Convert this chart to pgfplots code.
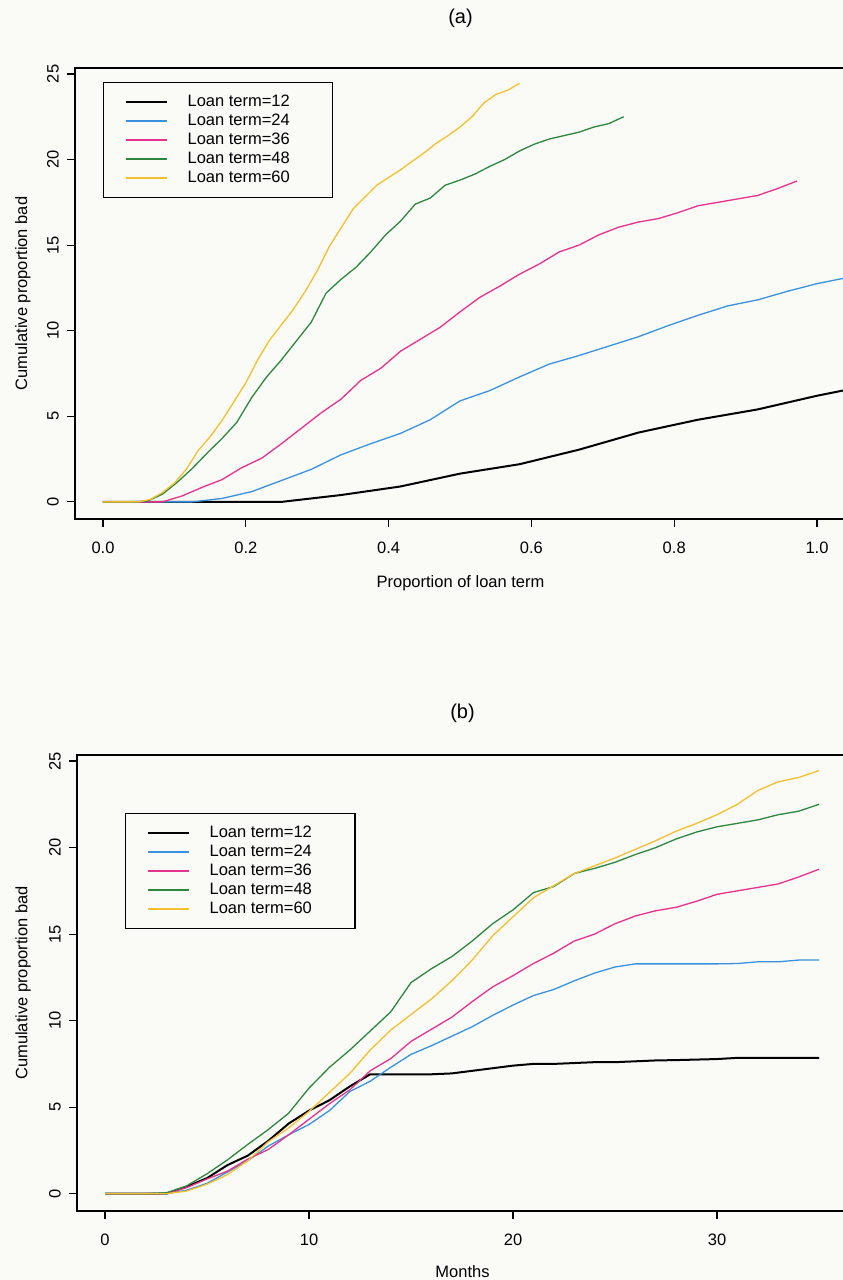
\documentclass[border=0pt]{standalone}
\usepackage{fontspec}
\setmainfont{Liberation Sans}
\usepackage{pgfplots}
\usepackage{pgfplotstable}
\pgfplotsset{compat=1.18}
\definecolor{bgc}{RGB}{250,250,246}
\definecolor{cblue}{RGB}{58,146,222}
\definecolor{cmag}{RGB}{230,50,140}
\definecolor{cgreen}{RGB}{46,133,64}
\definecolor{cyel}{RGB}{242,192,48}

% cumulative proportion bad (%) by month since opening, per loan term
\pgfplotstableread{
m  t12  t24   t36   t48   t60
0  0    0     0     0     0
1  0    0     0     0     0
2  0    0     0     0     0
3  0    0     0     0.05  0
4  0.4  0.2   0.35  0.45  0.15
5  0.9  0.6   0.85  1.15  0.55
6  1.65 1.25  1.3   1.95  1.1
7  2.2  1.9   2.0   2.85  1.9
8  3.05 2.75  2.55  3.7   3.0
9  4.05 3.4   3.4   4.65  3.8
10 4.8  4.0   4.3   6.1   4.75
11 5.4  4.8   5.2   7.3   5.85
12 6.2  5.9   6.0   8.3   6.95
13 6.9  6.5   7.1   9.4   8.3
14 6.9  7.3   7.8   10.5  9.45
15 6.9  8.05  8.8   12.2  10.35
16 6.9  8.55  9.5   13.0  11.25
17 6.95 9.1   10.2  13.7  12.3
18 7.1  9.65  11.1  14.6  13.5
19 7.25 10.3  11.95 15.6  14.9
20 7.4  10.9  12.6  16.4  16.0
21 7.5  11.45 13.3  17.4  17.1
22 7.5  11.8  13.9  17.75 17.8
23 7.55 12.3  14.6  18.5  18.5
24 7.6  12.75 15.0  18.8  18.95
25 7.6  13.1  15.6  19.15 19.4
26 7.65 13.28 16.05 19.6  19.9
27 7.7  13.28 16.35 20.0  20.4
28 7.72 13.28 16.55 20.5  20.95
29 7.75 13.28 16.9  20.9  21.4
30 7.78 13.28 17.3  21.2  21.9
31 7.85 13.3  17.5  21.4  22.5
32 7.85 13.4  17.7  21.6  23.3
33 7.85 13.4  17.9  21.9  23.8
34 7.85 13.5  18.3  22.1  24.05
35 7.85 13.5  18.75 22.5  24.45
}\loandata

\pgfplotsset{
  every axis title shift=0pt,
  loanaxis/.style={
    scale only axis,
    width=771bp,
    axis line style={line width=1.5bp},
    every tick/.style={black, line width=1.2bp},
    tick align=outside,
    major tick length=8bp,
    tick pos=left,
    ymin=-1.0, ymax=25.35,
    ytick={0,5,10,15,20,25},
    /pgf/number format/assume math mode=true,
    yticklabel style={rotate=90, anchor=center},
    yticklabel shift=14bp,
    xticklabel style={anchor=center},
    xticklabel shift=21bp,
    title style={anchor=center, font=\fontsize{20bp}{23bp}\selectfont},
    xlabel style={anchor=center},
    ylabel style={anchor=center},
    ylabel={Cumulative proportion bad},
    legend cell align=left,
    legend image code/.code={\draw[##1] (0bp,0bp) -- (41bp,0bp);},
    legend style={draw=black, line width=1.2bp, fill=bgc,
      inner xsep=21bp, inner ysep=12bp, row sep=4bp,
      nodes={inner sep=0bp, text height=12bp, text depth=3bp},
      /tikz/every odd column/.append style={column sep=20bp},
      anchor=north west},
  },
  c12/.style={black, line width=2bp},
  c24/.style={cblue, line width=1.3bp},
  c36/.style={cmag, line width=1.3bp},
  c48/.style={cgreen, line width=1.3bp},
  c60/.style={cyel, line width=1.3bp},
}

\begin{document}
\begin{tikzpicture}[font=\fontsize{16.5bp}{19.5bp}\selectfont]
\fill[bgc] (0bp,0bp) rectangle (843bp,1280bp);
\path[use as bounding box] (0bp,0bp) rectangle (843bp,1280bp);

% ---------- panel (a) ----------
\begin{axis}[loanaxis,
  at={(75bp,761bp)}, anchor=south west,
  height=451bp,
  xmin=-0.0392, xmax=1.0406,
  xtick={0,0.2,0.4,0.6,0.8,1.0},
  xticklabels={0.0,0.2,0.4,0.6,0.8,1.0},
  title={(a)}, title style={at={(axis description cs:0.5,1.1109)}},
  xlabel={Proportion of loan term},
  xlabel style={at={(axis description cs:0.5,-0.1419)}},
  ylabel style={at={(axis description cs:-0.0675,0.5)}},
  legend style={at={(0.0363,0.969)}},
]
\addplot[c12] table[x expr=\thisrow{m}/12, y=t12] {\loandata};
\addlegendentry{Loan term=12\hspace*{22bp}}
\addplot[c24] table[x expr=\thisrow{m}/24, y=t24] {\loandata};
\addlegendentry{Loan term=24\hspace*{22bp}}
\addplot[c36] table[x expr=\thisrow{m}/36, y=t36] {\loandata};
\addlegendentry{Loan term=36\hspace*{22bp}}
\addplot[c48] table[x expr=\thisrow{m}/48, y=t48] {\loandata};
\addlegendentry{Loan term=48\hspace*{22bp}}
\addplot[c60] table[x expr=\thisrow{m}/60, y=t60] {\loandata};
\addlegendentry{Loan term=60\hspace*{22bp}}
\end{axis}

% ---------- panel (b) ----------
\begin{axis}[loanaxis,
  at={(77bp,69bp)}, anchor=south west,
  height=456bp,
  xmin=-1.373, xmax=36.42,
  xtick={0,10,20,30},
  title={(b)}, title style={at={(axis description cs:0.5,1.0921)}},
  xlabel={Months},
  xlabel style={at={(axis description cs:0.5,-0.1338)}},
  ylabel style={at={(axis description cs:-0.0700,0.5)}},
  legend style={at={(0.0623,0.8728)}},
]
\addplot[c12] table[x=m, y=t12] {\loandata};
\addlegendentry{Loan term=12\hspace*{22bp}}
\addplot[c24] table[x=m, y=t24] {\loandata};
\addlegendentry{Loan term=24\hspace*{22bp}}
\addplot[c36] table[x=m, y=t36] {\loandata};
\addlegendentry{Loan term=36\hspace*{22bp}}
\addplot[c48] table[x=m, y=t48] {\loandata};
\addlegendentry{Loan term=48\hspace*{22bp}}
\addplot[c60] table[x=m, y=t60] {\loandata};
\addlegendentry{Loan term=60\hspace*{22bp}}
\end{axis}
\end{tikzpicture}
\end{document}
